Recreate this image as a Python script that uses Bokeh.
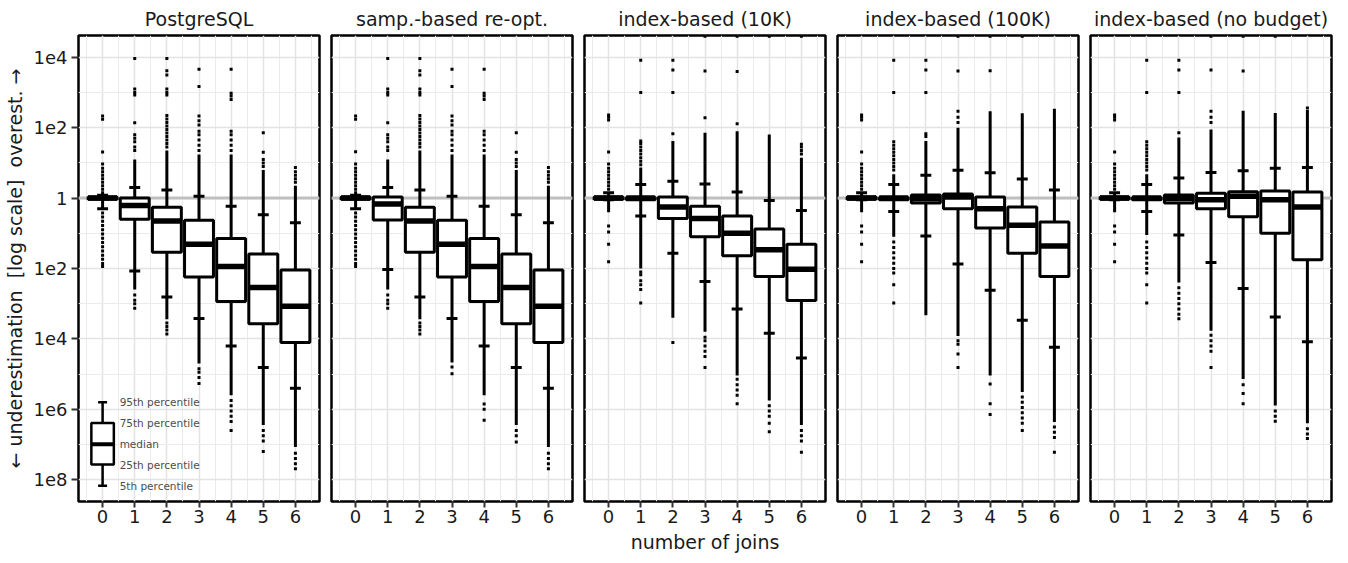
from bokeh.plotting import figure
from bokeh.layouts import row
from bokeh.models import Range1d, FixedTicker, Span, ColumnDataSource
from bokeh.embed import file_html
from bokeh.resources import INLINE
from bokeh.core.properties import value

FONT = "DejaVu Sans"

titles = ["PostgreSQL", "samp.-based re-opt.", "index-based (10K)",
          "index-based (100K)", "index-based (no budget)"]
joins = [0, 1, 2, 3, 4, 5, 6]
# y values are signed log10 q-errors: positive = overestimation, negative = underestimation
y_ticks = [-8, -6, -4, -2, 0, 2, 4]
y_tick_labels = ["1e8", "1e6", "1e4", "1e2", "1", "1e2", "1e4"]

# ---------------- PostgreSQL ----------------
pg_q05 = [-0.30, -2.07, -2.81, -3.42, -4.20, -4.81, -5.40]
pg_q25 = [-0.03, -0.60, -1.54, -2.24, -2.94, -3.57, -4.10]
pg_med = [0.00, -0.21, -0.65, -1.31, -1.94, -2.54, -3.07]
pg_q75 = [0.03, 0.00, -0.26, -0.63, -1.15, -1.59, -2.04]
pg_q95 = [0.08, 0.30, 0.23, 0.05, -0.23, -0.47, -0.70]
pg_lo = [-0.30, -2.60, -3.44, -4.70, -5.60, -6.45, -7.07]
pg_hi = [0.08, 1.10, 1.35, 1.24, 1.24, 0.80, 0.35]
pg_out = [
    [0.15, 0.25, 0.35, 0.45, 0.55, 0.65, 0.75, 0.85, 0.97, 1.31, 2.24, 2.33,
     -0.42, -0.54, -0.66, -0.78, -0.90, -1.02, -1.14, -1.26, -1.38, -1.50, -1.62, -1.74, -1.86, -1.94],
    [1.35, 1.45, 1.60, 1.70, 1.80, 2.14, 2.93, 3.00, 3.10, 3.97, -2.75, -2.90, -3.00, -3.13],
    [1.45, 1.55, 1.65, 1.75, 1.85, 1.95, 2.05, 2.15, 2.25, 2.35, 2.93, 3.00, 3.10, 3.50, 3.62, 3.97,
     -3.55, -3.65, -3.75, -3.86],
    [1.35, 1.50, 1.65, 1.80, 1.90, 2.08, 2.20, 2.33, 3.17, 3.66, -4.85, -4.95, -5.10, -5.27],
    [1.35, 1.50, 1.65, 1.80, 1.90, 2.80, 2.90, 2.98, 3.66, -5.75, -5.90, -6.05, -6.20, -6.35, -6.60],
    [0.90, 1.00, 1.10, 1.30, 1.86, -6.60, -6.75, -6.90, -7.20],
    [0.45, 0.55, 0.65, 0.75, 0.87, -7.25, -7.40, -7.55, -7.69],
]

# ---------------- sampling-based re-optimization ----------------
sr_q05 = [-0.30, -2.03, -2.81, -3.42, -4.20, -4.81, -5.40]
sr_q25 = [-0.03, -0.62, -1.54, -2.24, -2.94, -3.57, -4.10]
sr_med = [0.00, -0.17, -0.65, -1.31, -1.94, -2.54, -3.07]
sr_q75 = [0.03, 0.03, -0.26, -0.63, -1.15, -1.59, -2.04]
sr_q95 = [0.08, 0.30, 0.23, 0.05, -0.23, -0.47, -0.70]
sr_lo = [-0.30, -2.60, -3.44, -4.67, -5.60, -6.45, -7.07]
sr_hi = [0.08, 1.10, 1.35, 1.24, 1.24, 0.80, 0.35]
sr_out = [
    [0.15, 0.25, 0.35, 0.45, 0.55, 0.65, 0.75, 0.85, 0.97, 1.32, 2.24, 2.33,
     -0.42, -0.54, -0.66, -0.78, -0.90, -1.02, -1.14, -1.26, -1.38, -1.50, -1.62, -1.74, -1.86, -1.94],
    [1.35, 1.45, 1.60, 1.70, 1.80, 2.14, 2.93, 3.00, 3.10, 3.97, -2.75, -2.90, -3.00, -3.13],
    [1.45, 1.55, 1.65, 1.75, 1.85, 1.95, 2.05, 2.15, 2.25, 2.35, 2.93, 3.00, 3.10, 3.50, 3.62, 3.97,
     -3.55, -3.65, -3.75, -3.86],
    [1.35, 1.50, 1.65, 1.80, 1.90, 2.08, 2.20, 2.33, 3.17, 3.66, -4.80, -4.99],
    [1.35, 1.50, 1.65, 1.80, 1.90, 2.80, 2.90, 2.98, 3.66, -5.85, -6.00, -6.31],
    [0.90, 1.00, 1.10, 1.30, 1.86, -6.60, -6.75, -6.93],
    [0.45, 0.55, 0.65, 0.75, 0.87, -7.25, -7.40, -7.55, -7.69],
]

# ---------------- index-based (10K) ----------------
i10_q05 = [-0.05, -0.51, -1.57, -2.37, -3.15, -3.84, -4.54]
i10_q25 = [-0.03, -0.05, -0.58, -1.10, -1.64, -2.23, -2.91]
i10_med = [0.00, 0.00, -0.25, -0.58, -1.00, -1.47, -2.02]
i10_q75 = [0.03, 0.02, 0.03, -0.23, -0.51, -0.88, -1.31]
i10_q95 = [0.15, 0.39, 0.48, 0.40, 0.17, -0.07, -0.35]
i10_lo = [-0.40, -2.00, -3.40, -3.80, -5.04, -5.75, -6.45]
i10_hi = [0.15, 0.87, 1.62, 1.86, 1.90, 1.81, 1.15]
i10_out = [
    [0.25, 0.35, 0.45, 0.55, 0.65, 0.75, 0.85, 0.97, 1.31, 2.22, 2.30, 2.36,
     -0.79, -0.96, -1.31, -1.81],
    [0.95, 1.05, 1.15, 1.25, 1.35, 1.45, 1.55, 1.62, 3.00, 3.92,
     -2.10, -2.18, -2.35, -2.46, -2.60, -2.98],
    [1.83, 3.00, 3.64, 3.92, -4.10],
    [2.28, 3.61, 4.60, -3.95, -4.05, -4.20, -4.35, -4.50, -4.81],
    [2.11, 3.60, 4.60, -5.15, -5.30, -5.45, -5.60, -5.84],
    [4.60, -5.90, -6.05, -6.20, -6.40, -6.64],
    [1.25, 1.35, 1.45, 1.53, 4.60, -6.60, -6.75, -6.90, -7.22],
]

# ---------------- index-based (100K) ----------------
i100_q05 = [-0.05, -0.38, -1.08, -1.87, -2.62, -3.47, -4.24]
i100_q25 = [-0.03, -0.05, -0.14, -0.30, -0.85, -1.57, -2.23]
i100_med = [0.00, 0.00, -0.02, 0.03, -0.30, -0.77, -1.36]
i100_q75 = [0.03, 0.02, 0.09, 0.12, 0.03, -0.25, -0.68]
i100_q95 = [0.15, 0.39, 0.65, 0.79, 0.72, 0.54, 0.23]
i100_lo = [-0.40, -1.10, -3.33, -3.92, -5.04, -5.51, -6.36]
i100_hi = [0.15, 0.68, 1.62, 2.00, 2.47, 2.41, 2.54]
i100_out = [
    [0.25, 0.35, 0.45, 0.55, 0.65, 0.75, 0.85, 0.97, 1.31, 2.22, 2.30, 2.36,
     -0.79, -0.96, -1.31, -1.81],
    [0.80, 0.90, 1.00, 1.10, 1.20, 1.30, 1.40, 1.50, 1.60, 3.00, 3.92,
     -1.25, -1.40, -1.55, -1.70, -1.85, -2.00, -2.13, -2.46, -2.98],
    [1.75, 1.83, 3.00, 3.64, 3.92],
    [2.15, 2.30, 2.47, 3.61, 4.60, -4.05, -4.15, -4.43, -4.81],
    [3.62, 4.60, -5.28, -5.84, -6.15],
    [4.60, -5.65, -5.80, -5.95, -6.10, -6.25, -6.40, -6.60],
    [-6.50, -6.65, -6.80, -7.22],
]

# ---------------- index-based (no budget) ----------------
inb_q05 = [-0.05, -0.38, -1.05, -1.83, -2.57, -3.38, -4.08]
inb_q25 = [-0.03, -0.05, -0.14, -0.30, -0.53, -1.00, -1.75]
inb_med = [0.00, 0.00, -0.01, -0.05, 0.05, -0.05, -0.25]
inb_q75 = [0.03, 0.02, 0.09, 0.14, 0.18, 0.20, 0.17]
inb_q95 = [0.15, 0.39, 0.57, 0.73, 0.78, 0.85, 0.87]
inb_lo = [-0.40, -1.05, -2.40, -3.77, -5.14, -5.89, -6.40]
inb_hi = [0.15, 0.68, 1.72, 1.95, 2.48, 2.42, 2.50]
inb_out = [
    [0.25, 0.35, 0.45, 0.55, 0.65, 0.75, 0.85, 0.97, 1.31, 2.22, 2.30, 2.36,
     -0.79, -0.96, -1.31, -1.81],
    [0.80, 0.90, 1.00, 1.10, 1.20, 1.30, 1.40, 1.50, 1.60, 3.00, 3.92,
     -1.25, -1.40, -1.55, -1.70, -1.85, -2.00, -2.13, -2.46, -2.98],
    [1.86, 3.00, 3.64, 3.92, -2.55, -2.70, -2.85, -3.00, -3.15, -3.30, -3.43],
    [2.15, 2.30, 2.47, 3.64, 4.60, -3.90, -4.05, -4.20, -4.35, -4.81],
    [3.61, 4.60, -5.30, -5.55, -5.84],
    [4.60, -6.05, -6.20, -6.34],
    [2.56, -6.55, -6.70, -6.83],
]

# legend explaining the box glyph (drawn in the first panel)
legend_labels = ["95th percentile", "75th percentile", "median", "25th percentile", "5th percentile"]
legend_y = [-5.80, -6.39, -6.99, -7.57, -8.17]

panels = [
    (pg_q05, pg_q25, pg_med, pg_q75, pg_q95, pg_lo, pg_hi, pg_out),
    (sr_q05, sr_q25, sr_med, sr_q75, sr_q95, sr_lo, sr_hi, sr_out),
    (i10_q05, i10_q25, i10_med, i10_q75, i10_q95, i10_lo, i10_hi, i10_out),
    (i100_q05, i100_q25, i100_med, i100_q75, i100_q95, i100_lo, i100_hi, i100_out),
    (inb_q05, inb_q25, inb_med, inb_q75, inb_q95, inb_lo, inb_hi, inb_out),
]

BOX_HALF = 0.45
CAP_HALF = 0.17
TXT = "#1a1a1a"
NB = "\u00a0"


def make_panel(idx, title, data):
    q05, q25, med, q75, q95, lo, hi, out = data
    first = idx == 0
    last = idx == len(titles) - 1
    p = figure(title=title,
               x_range=Range1d(-0.75, 6.75), y_range=Range1d(-8.62, 4.62),
               frame_width=241, frame_height=466,
               min_border_left=75 if first else 6, min_border_right=2 if last else 6,
               min_border_top=29, min_border_bottom=0,
               output_backend="svg", toolbar_location=None)
    p.background_fill_color = "white"
    p.border_fill_color = "white"
    p.outline_line_color = "black"
    p.outline_line_width = 2.5

    p.title.text_font = FONT
    p.title.text_font_size = "19px"
    p.title.text_font_style = "normal"
    p.title.text_color = TXT
    p.title.align = "center"
    p.title.standoff = 11

    xt = FixedTicker(ticks=joins, minor_ticks=[j - 0.5 for j in joins] + [joins[-1] + 0.5])
    yt = FixedTicker(ticks=y_ticks, minor_ticks=[t + 1 for t in y_ticks[:-1]])
    p.xaxis.ticker = xt
    p.yaxis.ticker = yt
    p.xgrid.ticker = xt
    p.ygrid.ticker = yt
    p.grid.grid_line_color = "#e3e3e3"
    p.grid.grid_line_width = 1.5
    p.grid.minor_grid_line_color = "#ebebeb"
    p.grid.minor_grid_line_width = 1

    for ax in p.xaxis:
        ax.axis_line_color = None
        ax.major_tick_line_color = "#333333"
        ax.major_tick_line_width = 2
        ax.major_tick_in = 0
        ax.major_tick_out = 6
        ax.minor_tick_line_color = None
        ax.major_label_text_font = FONT
        ax.major_label_text_font_size = "18px"
        ax.major_label_text_color = TXT
        ax.major_label_standoff = 2
        ax.axis_label_text_font = FONT
        ax.axis_label_text_font_size = "19px"
        ax.axis_label_text_font_style = "normal"
        ax.axis_label_text_color = TXT
        ax.axis_label_standoff = 5
        if idx == 2:
            ax.axis_label = "number of joins"

    if first:
        for ax in p.yaxis:
            ax.major_label_overrides = {t: s for t, s in zip(y_ticks, y_tick_labels)}
            ax.axis_line_color = None
            ax.major_tick_line_color = "#333333"
            ax.major_tick_line_width = 2
            ax.major_tick_in = 0
            ax.major_tick_out = 7
            ax.minor_tick_line_color = None
            ax.major_label_text_font = FONT
            ax.major_label_text_font_size = "18px"
            ax.major_label_text_color = TXT
            ax.major_label_standoff = 4
            ax.axis_label = ("\u2190 underestimation" + NB + NB + "[log scale]" + NB + NB + "overest. \u2192")
            ax.axis_label_text_font = FONT
            ax.axis_label_text_font_size = "19px"
            ax.axis_label_text_font_style = "normal"
            ax.axis_label_text_color = TXT
            ax.axis_label_standoff = 5
    else:
        p.yaxis.visible = False

    zero = Span(location=0, dimension="width", line_color="#bfbfbf", line_width=3, level="underlay")
    p.add_layout(zero)

    src = ColumnDataSource(dict(
        x=joins, q05=q05, q25=q25, med=med, q75=q75, q95=q95, lo=lo, hi=hi,
        bl=[j - BOX_HALF for j in joins], br=[j + BOX_HALF for j in joins],
        cl=[j - CAP_HALF for j in joins], cr=[j + CAP_HALF for j in joins],
    ))
    # whisker line (including dense tail region)
    p.segment(x0="x", y0="lo", x1="x", y1="hi", line_color="black", line_width=3, source=src)
    # individual outliers
    ox = [j for j, vals in zip(joins, out) for _ in vals]
    oy = [v for vals in out for v in vals]
    p.scatter(ox, oy, marker="square", size=3, fill_color="black", line_color=None)
    # 5th / 95th percentile caps
    p.segment(x0="cl", y0="q05", x1="cr", y1="q05", line_color="black", line_width=3, source=src)
    p.segment(x0="cl", y0="q95", x1="cr", y1="q95", line_color="black", line_width=3, source=src)
    # boxes
    p.quad(left="bl", right="br", bottom="q25", top="q75", fill_color="white",
           line_color="black", line_width=3, source=src)
    # medians
    p.segment(x0="bl", y0="med", x1="br", y1="med", line_color="black", line_width=5.5, source=src)

    if first:
        lx = joins[0]
        lh, lc = 0.35, 0.14
        p.segment(x0=[lx], y0=[legend_y[4]], x1=[lx], y1=[legend_y[0]], line_color="black", line_width=2.5)
        p.segment(x0=[lx - lc, lx - lc], y0=[legend_y[0], legend_y[4]],
                  x1=[lx + lc, lx + lc], y1=[legend_y[0], legend_y[4]], line_color="black", line_width=2.5)
        p.quad(left=[lx - lh], right=[lx + lh], bottom=[legend_y[3]], top=[legend_y[1]],
               fill_color="white", line_color="black", line_width=2.5)
        p.segment(x0=[lx - lh], y0=[legend_y[2]], x1=[lx + lh], y1=[legend_y[2]],
                  line_color="black", line_width=4)
        p.text(x=[lx + 0.53] * len(legend_labels), y=legend_y, text=legend_labels,
               text_font=value(FONT), text_font_size=value("10.5px"), text_color="#4d4d4d",
               text_baseline="middle", text_align="left")
    return p


figs = [make_panel(i, t, d) for i, (t, d) in enumerate(zip(titles, panels))]
layout = row(*figs, spacing=0)

open("out.html", "w").write(file_html(layout, INLINE))
